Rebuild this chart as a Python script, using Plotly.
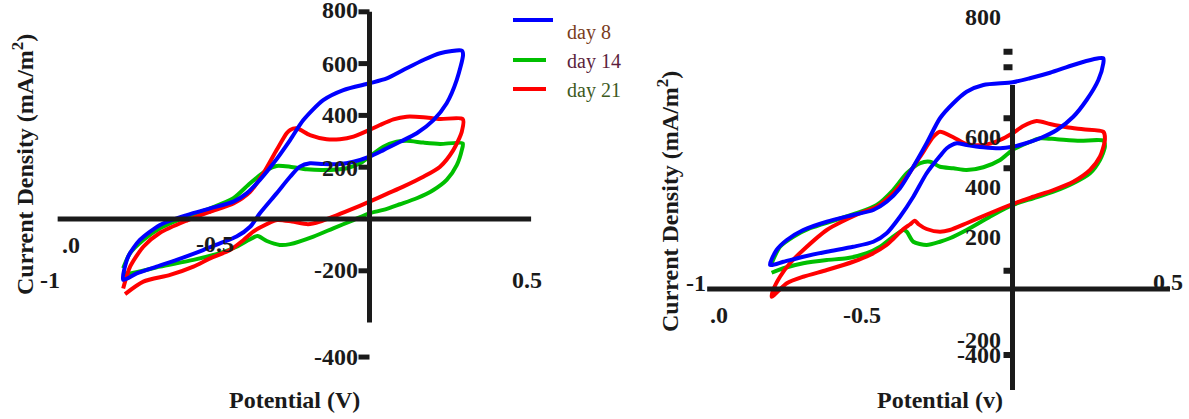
import plotly.graph_objects as go

# ---------------------------------------------------------------------------
# Cyclic voltammograms: (potential V, current density mA/m^2)
# forward (upper) branch followed by the reverse (lower) branch
# ---------------------------------------------------------------------------
series_names = ["day 8", "day 14", "day 21"]

left_day8 = [
    (-0.782, -235), (-0.766, -145), (-0.729, -81), (-0.665, -23), (-0.580, 15),
    (-0.506, 41), (-0.432, 67), (-0.390, 99), (-0.348, 151), (-0.305, 215),
    (-0.252, 305), (-0.210, 382), (-0.147, 459), (-0.083, 498), (0.0, 524),
    (0.055, 543), (0.107, 575), (0.171, 614), (0.224, 640), (0.293, 650),
    (0.297, 635), (0.277, 537), (0.245, 447), (0.203, 382), (0.150, 331),
    (0.097, 298), (0.044, 266), (0.0, 241), (-0.051, 221), (-0.094, 212),
    (-0.147, 212), (-0.189, 215), (-0.221, 202), (-0.252, 163), (-0.295, 99),
    (-0.348, 22), (-0.379, -30), (-0.422, -68), (-0.475, -94), (-0.528, -120),
    (-0.612, -158), (-0.676, -184), (-0.739, -210), (-0.782, -235),
]
left_day14 = [
    (-0.782, -190), (-0.760, -132), (-0.718, -81), (-0.665, -36), (-0.580, 9),
    (-0.506, 41), (-0.432, 80), (-0.379, 138), (-0.326, 189), (-0.295, 205),
    (-0.252, 202), (-0.199, 192), (-0.147, 189), (-0.072, 196), (-0.030, 215),
    (0.0, 241), (0.044, 279), (0.086, 298), (0.118, 302), (0.171, 295),
    (0.224, 290), (0.296, 292),
    (0.293, 266), (0.277, 208), (0.245, 151), (0.203, 112), (0.150, 80),
    (0.097, 57), (0.044, 35), (0.0, 22), (-0.051, -4), (-0.115, -36),
    (-0.178, -68), (-0.252, -97), (-0.285, -100), (-0.326, -85), (-0.355, -66),
    (-0.379, -78), (-0.422, -107), (-0.475, -132), (-0.559, -158), (-0.665, -184),
    (-0.760, -210), (-0.782, -210),
]
left_day21 = [
    (-0.782, -268), (-0.760, -184), (-0.718, -107), (-0.665, -53), (-0.580, -6),
    (-0.506, 28), (-0.432, 60), (-0.379, 105), (-0.337, 176), (-0.295, 266),
    (-0.263, 331), (-0.252, 344), (-0.231, 350), (-0.189, 324), (-0.136, 308),
    (-0.094, 308), (-0.051, 318), (0.0, 344), (0.033, 363), (0.076, 385),
    (0.118, 395), (0.171, 393), (0.224, 386), (0.296, 386),
    (0.293, 337), (0.266, 266), (0.224, 202), (0.171, 163), (0.107, 125),
    (0.055, 97), (0.0, 67), (-0.062, 35), (-0.115, 9), (-0.157, -10),
    (-0.195, -20), (-0.246, -10), (-0.294, -4), (-0.343, -30), (-0.369, -49),
    (-0.400, -81), (-0.443, -120), (-0.506, -152), (-0.559, -184), (-0.633, -216),
    (-0.718, -242), (-0.776, -290),
]

right_day8 = [
    (-0.782, 96), (-0.761, 156), (-0.728, 196), (-0.675, 236), (-0.599, 269),
    (-0.514, 296), (-0.449, 316), (-0.406, 349), (-0.363, 403), (-0.320, 489),
    (-0.277, 583), (-0.234, 683), (-0.191, 743), (-0.148, 789), (-0.094, 816),
    (0.0, 827), (0.056, 843), (0.121, 865), (0.196, 896), (0.261, 919),
    (0.293, 923),
    (0.293, 903), (0.277, 836), (0.239, 756), (0.196, 689), (0.143, 636),
    (0.089, 603), (0.035, 580), (0.0, 569), (-0.040, 563), (-0.094, 567),
    (-0.148, 576), (-0.180, 583), (-0.212, 563), (-0.234, 532), (-0.277, 463),
    (-0.320, 369), (-0.363, 289), (-0.406, 223), (-0.449, 189), (-0.514, 169),
    (-0.599, 149), (-0.675, 129), (-0.739, 109), (-0.782, 96),
]
right_day14 = [
    (-0.777, 103), (-0.750, 169), (-0.707, 209), (-0.653, 243), (-0.578, 273),
    (-0.503, 303), (-0.438, 336), (-0.385, 396), (-0.341, 463), (-0.298, 503),
    (-0.266, 509), (-0.234, 489), (-0.191, 483), (-0.148, 476), (-0.094, 487),
    (-0.040, 516), (0.0, 556), (0.046, 583), (0.089, 603), (0.143, 599),
    (0.218, 593), (0.293, 593),
    (0.298, 569), (0.282, 516), (0.250, 463), (0.196, 423), (0.132, 389),
    (0.067, 363), (0.0, 336), (-0.073, 289), (-0.148, 236), (-0.202, 203),
    (-0.234, 189), (-0.277, 176), (-0.320, 189), (-0.341, 229), (-0.352, 236),
    (-0.385, 209), (-0.427, 169), (-0.470, 143), (-0.535, 123), (-0.599, 116),
    (-0.675, 103), (-0.739, 83), (-0.777, 65),
]
right_day21 = [
    (-0.777, -31), (-0.772, -4), (-0.750, 49), (-0.718, 103), (-0.675, 156),
    (-0.599, 236), (-0.492, 303), (-0.438, 329), (-0.385, 383), (-0.341, 449),
    (-0.298, 529), (-0.255, 609), (-0.234, 629), (-0.191, 607), (-0.148, 579),
    (-0.094, 576), (-0.040, 596), (0.0, 623), (0.035, 652), (0.078, 672),
    (0.121, 660), (0.175, 647), (0.228, 639), (0.293, 629),
    (0.298, 596), (0.282, 529), (0.250, 476), (0.196, 429), (0.132, 396),
    (0.067, 369), (0.0, 340), (-0.073, 303), (-0.148, 263), (-0.202, 236),
    (-0.234, 229), (-0.277, 240), (-0.302, 258), (-0.315, 273), (-0.331, 258),
    (-0.352, 240), (-0.385, 200), (-0.406, 176), (-0.460, 136), (-0.514, 109),
    (-0.599, 76), (-0.675, 49), (-0.728, 23), (-0.777, -31),
]

# tick labels (text, value) for each panel
left_ytick_text = ["800", "600", "400", "200", "-200", "-400"]
left_ytick_pos = [808, 600, 400, 197, -197, -533]
left_tick_marks = [800, 600, 400, 200, -200, -533]
left_xtick_text = ["-1", ".0", "-0.5", "0.5"]
left_xtick_pos = [(-1.014, -236), (-0.948, -100), (-0.490, -97), (0.50, -236)]

right_ytick_text = ["800", "600", "400", "200", "-200", "-400"]
right_ytick_pos = [1088, 608, 408, 208, -204, -264]
right_tick_marks = [949, 887, 683, 483, 73, -264]
right_xtick_text = ["-1", ".0", "-0.5", "0.5"]
right_xtick_pos = [(-1.02, 24), (-0.947, -104), (-0.486, -104), (0.502, 28)]

# ---------------------------------------------------------------------------
W, H = 1189, 419
colors = {"day 8": "#0000ff", "day 14": "#00bf00", "day 21": "#ff0000"}
label_colors = {"day 8": "#7a3c1c", "day 14": "#5c1f3d", "day 21": "#3d5a1e"}
AXIS = "#1a1a1a"
SERIF = "Liberation Serif"


def span(origin_px, px_per_unit, lo_px, hi_px, invert=False):
    """Data range that puts value 0 at origin_px with the given pixel scale."""
    if invert:
        return [(origin_px - hi_px) / px_per_unit, (origin_px - lo_px) / px_per_unit]
    return [(lo_px - origin_px) / px_per_unit, (hi_px - origin_px) / px_per_unit]


split = 594.5
layout_axes = dict(
    xaxis=dict(domain=[0, split / W], range=span(369.5, 315, 0, split)),
    yaxis=dict(domain=[0, 1], range=span(219, 0.259, 0, H, invert=True)),
    xaxis2=dict(domain=[split / W, 1], range=span(1012.5, 310, split, W)),
    yaxis2=dict(domain=[0, 1], range=span(289, 0.25, 0, H, invert=True)),
)

fig = go.Figure()
panels = [
    ("x", "y", {"day 8": left_day8, "day 14": left_day14, "day 21": left_day21}),
    ("x2", "y2", {"day 8": right_day8, "day 14": right_day14, "day 21": right_day21}),
]
for xa, ya, data in panels:
    for name in ["day 14", "day 21", "day 8"]:
        pts = data[name]
        fig.add_trace(go.Scatter(
            x=[p[0] for p in pts], y=[p[1] for p in pts],
            mode="lines", name=name, showlegend=False,
            line=dict(color=colors[name], width=4, shape="spline", smoothing=0.7),
            xaxis=xa, yaxis=ya,
        ))

shapes = []
annotations = []
bold = dict(family=SERIF, size=24, color="#1a1a1a", weight="bold")


def add_axes(xr, yr, x_from, x_to, y_from, y_to, marks, tick_len, tick_w):
    shapes.append(dict(type="line", xref=xr, yref=yr, x0=x_from, x1=x_to, y0=0, y1=0,
                       line=dict(color=AXIS, width=5)))
    shapes.append(dict(type="line", xref=xr, yref=yr, x0=0, x1=0, y0=y_from, y1=y_to,
                       line=dict(color=AXIS, width=5)))
    for v in marks:
        shapes.append(dict(type="line", xref=xr, yref=yr, x0=-tick_len, x1=0, y0=v, y1=v,
                           line=dict(color=AXIS, width=tick_w)))


add_axes("x", "y", -0.99, 0.513, -400, 800, left_tick_marks, 11 / 315, 5)
add_axes("x2", "y2", -0.985, 0.508, -404, 816, right_tick_marks, 9 / 310, 6)

for xr, yr, texts, pos, xpos in [
    ("x", "y", left_ytick_text, left_ytick_pos, -10 / 315),
    ("x2", "y2", right_ytick_text, right_ytick_pos, -10 / 310),
]:
    for t, v in zip(texts, pos):
        annotations.append(dict(xref=xr, yref=yr, x=xpos, y=v, text=t, showarrow=False,
                                xanchor="right", yanchor="middle", font=bold))

for xr, yr, texts, pos in [
    ("x", "y", left_xtick_text, left_xtick_pos),
    ("x2", "y2", right_xtick_text, right_xtick_pos),
]:
    for t, (xv, yv) in zip(texts, pos):
        annotations.append(dict(xref=xr, yref=yr, x=xv, y=yv, text=t, showarrow=False,
                                xanchor="center", yanchor="middle", font=bold))

# axis titles
for px, py, text, angle in [
    (294, 400, "Potential (V)", 0),
    (940, 400, "Potential (v)", 0),
    (23, 165, "Current Density (mA/m<sup>2</sup>)", -90),
    (668, 202, "Current Density (mA/m<sup>2</sup>)", -90),
]:
    annotations.append(dict(xref="paper", yref="paper", x=px / W, y=1 - py / H, text=text,
                            showarrow=False, textangle=angle, xanchor="center",
                            yanchor="middle", font=bold))

# legend
for name, (x0, x1, yl), yt in [
    ("day 8", (513, 553, 20), 33),
    ("day 14", (513, 546, 60), 61),
    ("day 21", (513, 546, 89), 90),
]:
    shapes.append(dict(type="line", xref="paper", yref="paper",
                       x0=x0 / W, x1=x1 / W, y0=1 - yl / H, y1=1 - yl / H,
                       line=dict(color=colors[name], width=4)))
    annotations.append(dict(xref="paper", yref="paper", x=565 / W, y=1 - yt / H,
                            text=name, showarrow=False, xanchor="left", yanchor="middle",
                            font=dict(family=SERIF, size=20, color=label_colors[name])))

hidden = dict(visible=False, showgrid=False, zeroline=False, fixedrange=True)
for key, ax in layout_axes.items():
    ax.update(hidden)
    if key == "yaxis2":
        ax["anchor"] = "x2"
    if key == "xaxis2":
        ax["anchor"] = "y2"

fig.update_layout(
    width=W, height=H, autosize=False,
    margin=dict(l=0, r=0, t=0, b=0),
    paper_bgcolor="white", plot_bgcolor="white",
    showlegend=False,
    shapes=shapes, annotations=annotations,
    **layout_axes,
)

fig.write_html("out.html")
